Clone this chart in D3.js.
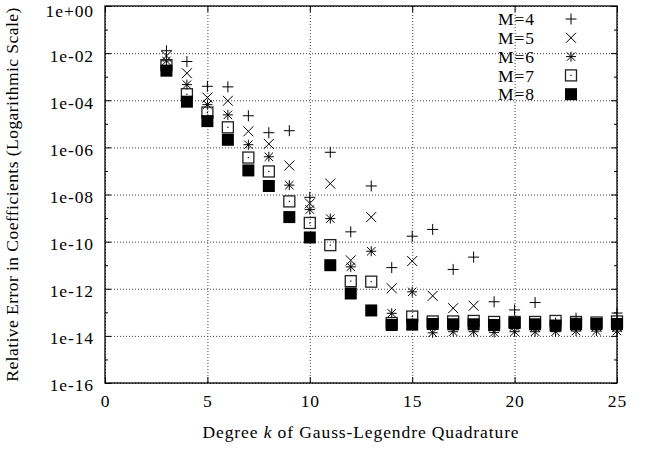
<!DOCTYPE html>
<html>
<head>
<meta charset="utf-8">
<title>Relative Error in Coefficients</title>
<script src="https://d3js.org/d3.v7.min.js"></script>
<style>
  body { margin: 0; background: #fff; }
  svg { display: block; }
  svg text { font-family: 'Liberation Serif', serif; font-size: 17.5px; letter-spacing: 0.9px; fill: #000; }
  .grid line { stroke: #444; stroke-dasharray: 1,2; }
  .grid path { display: none; }
  .ticks path { display: none; }
  .ticks line { stroke: #000; }
</style>
</head>
<body>
<svg id="chart"></svg>
<script>
// degree k of the quadrature
const degrees = [3, 4, 5, 6, 7, 8, 9, 10, 11, 12, 13, 14, 15, 16, 17, 18, 19, 20, 21, 22, 23, 24, 25];

// relative error per M
const errM4 = [1.26e-2, 4.4e-3, 3.9e-4, 3.7e-4, 2.2e-5, 4.2e-6, 5.1e-6, 7.6e-9, 6.2e-7, 2.6e-10, 2.3e-8, 7.9e-12,
               1.7e-10, 3.3e-10, 6.6e-12, 2.2e-11, 2.8e-13, 1.26e-13, 2.6e-13, 3.5e-14, 5.6e-14, 3.2e-14, 9.3e-14];
const errM5 = [7.6e-3, 1.4e-3, 1.3e-4, 9.5e-5, 4.8e-6, 1.4e-6, 1.7e-7, 4.2e-9, 2.9e-8, 1.6e-11, 1.1e-9, 1.05e-12,
               1.5e-11, 5.0e-13, 1.5e-13, 1.9e-13, 2.5e-14, 2.6e-14, 2.4e-14, 2.5e-14, 2.6e-14, 2.5e-14, 2.4e-14];
const errM6 = [4.7e-3, 4.6e-4, 6.5e-5, 2.4e-5, 1.3e-6, 4.0e-7, 2.5e-8, 2.3e-9, 9.5e-10, 8.5e-12, 3.9e-11, 9.1e-14,
               7.4e-13, 1.35e-14, 1.5e-14, 1.5e-14, 1.4e-14, 1.5e-14, 1.5e-14, 1.5e-14, 1.6e-14, 1.6e-14, 1.6e-14];
const errM7 = [3.1e-3, 1.8e-4, 3.0e-5, 7.1e-6, 3.7e-7, 9.5e-8, 5.1e-9, 6.2e-10, 7.1e-11, 2.1e-12, 2.0e-12, 3.5e-14,
               6.6e-14, 4.1e-14, 4.1e-14, 4.3e-14, 3.9e-14, 3.9e-14, 3.9e-14, 4.3e-14, 3.9e-14, 3.7e-14, 4.1e-14];
const errM8 = [1.8e-3, 8.7e-5, 1.3e-5, 2.1e-6, 1.05e-7, 2.3e-8, 1.1e-9, 1.5e-10, 1.0e-11, 6.3e-13, 1.2e-13, 2.9e-14,
               3.0e-14, 3.2e-14, 3.1e-14, 3.1e-14, 2.9e-14, 3.5e-14, 3.1e-14, 2.75e-14, 3.1e-14, 3.2e-14, 3.2e-14];

const seriesNames = ["M=4", "M=5", "M=6", "M=7", "M=8"];
const seriesMarkers = ["plus", "times", "star", "boxdot", "box"];

const xTicks = [0, 5, 10, 15, 20, 25];
const yTicks = [1e0, 1e-2, 1e-4, 1e-6, 1e-8, 1e-10, 1e-12, 1e-14, 1e-16];
const yTickLabels = ["1e+00", "1e-02", "1e-04", "1e-06", "1e-08", "1e-10", "1e-12", "1e-14", "1e-16"];
const yMinorTicks = [1e-1, 1e-3, 1e-5, 1e-7, 1e-9, 1e-11, 1e-13, 1e-15];

const series = [errM4, errM5, errM6, errM7, errM8].map((vals, i) => ({
    name: seriesNames[i],
    marker: seriesMarkers[i],
    points: vals.map((v, j) => ({ k: degrees[j], v: v }))
}));

const W = 650, H = 450;
const margin = { top: 6, right: 33, bottom: 67, left: 105 };
const width = W - margin.left - margin.right;
const height = H - margin.top - margin.bottom;

const svg = d3.select("#chart").attr("width", W).attr("height", H);
const g = svg.append("g").attr("transform", `translate(${margin.left},${margin.top})`);

const x = d3.scaleLinear().domain([0, 25]).range([0, width]);
const y = d3.scaleLog().domain([1e-16, 1]).range([height, 0]);

// dotted grid
g.append("g").attr("class", "grid")
    .call(d3.axisBottom(x).tickValues(xTicks).tickSize(height).tickFormat(""));
g.append("g").attr("class", "grid")
    .call(d3.axisLeft(y).tickValues(yTicks).tickSize(-width).tickFormat(""));

// ticks on all four sides, pointing inward
g.append("g").attr("class", "ticks")
    .attr("transform", `translate(0,${height})`)
    .call(d3.axisBottom(x).tickValues(xTicks).tickSizeInner(-6).tickPadding(12).tickFormat(d3.format("d")));
g.append("g").attr("class", "ticks")
    .call(d3.axisTop(x).tickValues(xTicks).tickSizeInner(-6).tickFormat(""));
g.append("g").attr("class", "ticks")
    .call(d3.axisLeft(y).tickValues(yTicks).tickSizeInner(-6).tickPadding(11).tickFormat((d, i) => yTickLabels[i]))
    .selectAll("text").attr("dy", (d, i) => i === 0 ? "0.6em" : "0.45em");
g.append("g").attr("class", "ticks")
    .call(d3.axisLeft(y).tickValues(yMinorTicks).tickSizeInner(-3).tickFormat(""));
g.append("g").attr("class", "ticks")
    .attr("transform", `translate(${width},0)`)
    .call(d3.axisRight(y).tickValues(yTicks).tickSizeInner(-6).tickFormat(""));
g.append("g").attr("class", "ticks")
    .attr("transform", `translate(${width},0)`)
    .call(d3.axisRight(y).tickValues(yMinorTicks).tickSizeInner(-3).tickFormat(""));

g.append("rect")
    .attr("width", width).attr("height", height)
    .attr("fill", "none").attr("stroke", "#000").attr("stroke-width", 1.3);

// marker shapes
function markerPath(type) {
    const p = d3.path();
    if (type === "plus" || type === "star") {
        const s = type === "plus" ? 5.5 : 5;
        p.moveTo(-s, 0); p.lineTo(s, 0);
        p.moveTo(0, -s); p.lineTo(0, s);
    }
    if (type === "times" || type === "star") {
        const s = type === "times" ? 5 : 4.2;
        p.moveTo(-s, -s); p.lineTo(s, s);
        p.moveTo(-s, s); p.lineTo(s, -s);
    }
    return p.toString();
}

function drawMarker(sel, type) {
    if (type === "box") {
        sel.append("rect").attr("x", -6).attr("y", -6).attr("width", 12).attr("height", 12)
            .attr("fill", "#000");
    } else if (type === "boxdot") {
        sel.append("rect").attr("x", -5.5).attr("y", -5.5).attr("width", 11).attr("height", 11)
            .attr("fill", "none").attr("stroke", "#222").attr("stroke-width", 1.3);
        sel.append("rect").attr("x", -0.6).attr("y", -0.6).attr("width", 1.2).attr("height", 1.2)
            .attr("fill", "#000");
    } else {
        sel.append("path").attr("d", markerPath(type))
            .attr("fill", "none").attr("stroke", "#000").attr("stroke-width", 1);
    }
}

series.forEach(s => {
    const pts = g.append("g").selectAll("g")
        .data(s.points)
        .enter().append("g")
        .attr("transform", d => `translate(${x(d.k)},${y(d.v)})`);
    drawMarker(pts, s.marker);
});

// legend
const legend = g.append("g");
series.forEach((s, i) => {
    const row = legend.append("g").attr("transform", `translate(0,${13 + i * 18.8})`);
    row.append("text")
        .attr("x", 430).attr("dy", "0.35em")
        .attr("text-anchor", "end")
        .text(s.name);
    drawMarker(row.append("g").attr("transform", "translate(466,0)"), s.marker);
});

// axis titles
const xTitle = svg.append("text")
    .attr("x", margin.left + width / 2).attr("y", 438)
    .attr("text-anchor", "middle");
xTitle.append("tspan").text("Degree ");
xTitle.append("tspan").style("font-style", "italic").text("k");
xTitle.append("tspan").text(" of Gauss-Legendre Quadrature");

svg.append("text")
    .attr("transform", `translate(12,${margin.top + height / 2}) rotate(-90)`)
    .attr("dy", "0.35em")
    .attr("text-anchor", "middle")
    .style("letter-spacing", "0.45px")
    .text("Relative Error in Coefficients (Logarithmic Scale)");
</script>
</body>
</html>
